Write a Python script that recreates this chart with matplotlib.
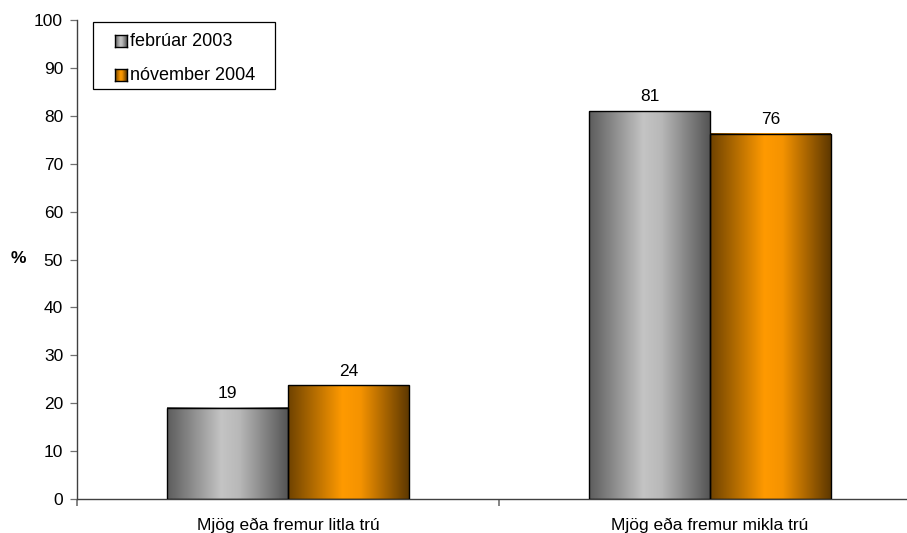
import matplotlib.pyplot as plt
import numpy as np
from matplotlib.colors import LinearSegmentedColormap

plt.rcParams['font.family'] = ['Liberation Sans', 'DejaVu Sans']

categories = ["Mjög eða fremur litla trú", "Mjög eða fremur mikla trú"]
series_names = ["febrúar 2003", "nóvember 2004"]
feb_2003 = [19, 81]
nov_2004 = [23.7, 76.3]
y_ticks = [0, 10, 20, 30, 40, 50, 60, 70, 80, 90, 100]

gray_cmap = LinearSegmentedColormap.from_list(
    "g", [(0, "#5c5c5c"), (0.45, "#c4c4c4"), (0.6, "#b8b8b8"), (1, "#555555")])
orange_cmap = LinearSegmentedColormap.from_list(
    "o", [(0, "#6e4200"), (0.45, "#ff9a00"), (0.6, "#f59300"), (1, "#5e3800")])

W, H = 907, 533
fs = 12.5
fig = plt.figure(figsize=(W / 100, H / 100), dpi=100)
ax = fig.add_axes([77 / W, 34 / H, 844 / W, 479 / H])

x = np.arange(len(categories))
bw = 0.286
grad = np.linspace(0, 1, 256).reshape(1, -1)

def gradient_bars(xs, vals, cmap):
    for xc, v in zip(xs, vals):
        ax.imshow(grad, cmap=cmap, aspect='auto', extent=[xc - bw / 2, xc + bw / 2, 0, v],
                  zorder=2, interpolation='bilinear')
        ax.add_patch(plt.Rectangle((xc - bw / 2, 0), bw, v, fill=False,
                                   edgecolor='black', linewidth=1.0, zorder=3))
        ax.text(xc, v + 1.4, f"{v:.0f}", ha='center', va='bottom', fontsize=fs)

gradient_bars(x - bw / 2, feb_2003, gray_cmap)
gradient_bars(x + bw / 2, nov_2004, orange_cmap)

ax.set_xlim(-0.5, 1.5)
ax.set_ylim(0, 100)
ax.set_yticks(y_ticks)
ax.set_xticks([-0.5, 0.5, 1.5])
ax.set_xticklabels([])
for xc, lab in zip(x, categories):
    ax.text(xc, -3.9, lab, ha='center', va='top', fontsize=fs)
ax.tick_params(axis='y', length=5, width=0.9, color='#707070', labelsize=fs, pad=5)
ax.tick_params(axis='x', length=5, width=1.2, color='#707070')
for s in ['top', 'right']:
    ax.spines[s].set_visible(False)
for s in ['left', 'bottom']:
    ax.spines[s].set_color('#404040')
    ax.spines[s].set_linewidth(1.0)
fig.text(18 / W, 1 - 259 / H, "%", ha='center', va='center', fontsize=fs, fontweight='bold')

# legend drawn by hand so the squares can carry the same gradient
fig.patches.append(plt.Rectangle((93 / W, 1 - 89 / H), 182 / W, 67 / H, transform=fig.transFigure,
                                 facecolor='white', edgecolor='black', linewidth=0.9, zorder=5))
for i, (name, cmap) in enumerate(zip(series_names, [gray_cmap, orange_cmap])):
    yc = 41 + i * 34
    sq = fig.add_axes([115 / W, 1 - (yc + 6) / H, 12 / W, 12 / H], zorder=6)
    sq.imshow(grad, cmap=cmap, aspect='auto', interpolation='bilinear')
    sq.set_xticks([])
    sq.set_yticks([])
    for sp in sq.spines.values():
        sp.set_linewidth(1.0)
    fig.text(130 / W, 1 - yc / H, name, ha='left', va='center', fontsize=13, zorder=7)

fig.savefig("out.png", dpi=100)
